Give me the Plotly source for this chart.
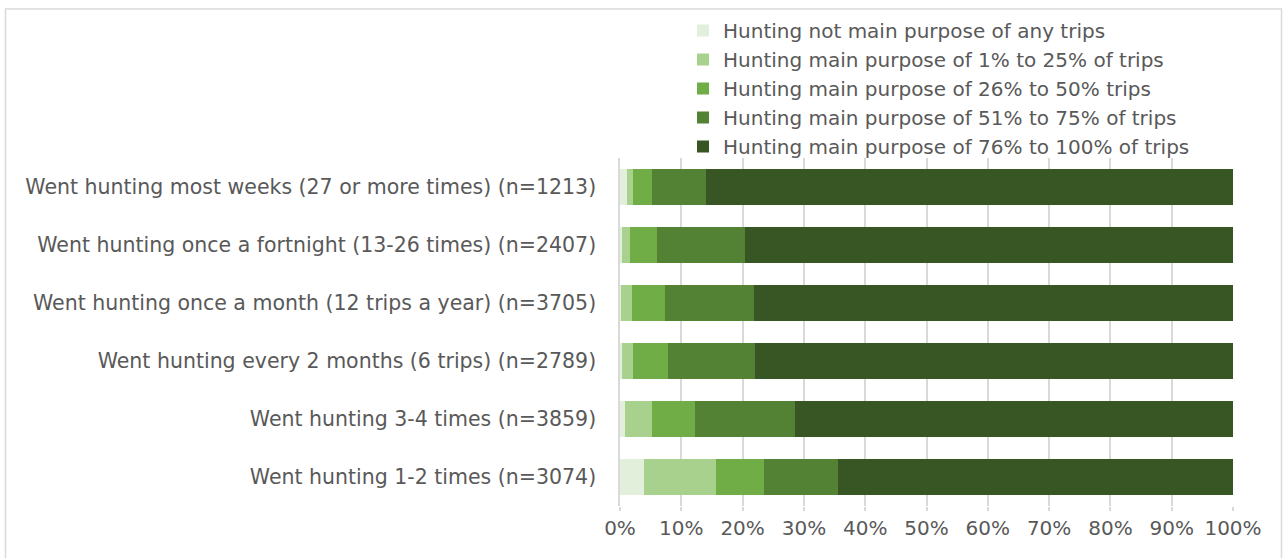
import plotly.graph_objects as go

# Frequency-of-hunting groups (top to bottom as drawn)
categories = [
    "Went hunting most weeks (27 or more times) (n=1213)",
    "Went hunting once a fortnight (13-26 times) (n=2407)",
    "Went hunting once a month (12 trips a year) (n=3705)",
    "Went hunting every 2 months (6 trips) (n=2789)",
    "Went hunting 3-4 times (n=3859)",
    "Went hunting 1-2 times (n=3074)",
]

series_names = [
    "Hunting not main purpose of any trips",
    "Hunting main purpose of 1% to 25% of trips",
    "Hunting main purpose of 26% to 50% trips",
    "Hunting main purpose of 51% to 75% of trips",
    "Hunting main purpose of 76% to 100% of trips",
]

# Share of respondents (%) per group, one list per series
not_main = [1.1, 0.3, 0.2, 0.4, 0.8, 3.9]
pct_1_25 = [1.0, 1.3, 1.7, 1.7, 4.5, 11.8]
pct_26_50 = [3.1, 4.5, 5.4, 5.7, 7.0, 7.8]
pct_51_75 = [8.9, 14.3, 14.6, 14.3, 16.3, 12.0]
pct_76_100 = [85.9, 79.6, 78.1, 77.9, 71.4, 64.5]

x_tick_vals = [0, 10, 20, 30, 40, 50, 60, 70, 80, 90, 100]
x_tick_text = ["0%", "10%", "20%", "30%", "40%", "50%", "60%", "70%", "80%", "90%", "100%"]

colors = ["#E2EFDA", "#A9D18E", "#70AD47", "#548235", "#375623"]
values = [not_main, pct_1_25, pct_26_50, pct_51_75, pct_76_100]

FONT = "DejaVu Sans"
FS = 20
TEXT = "#595959"
GRID = "#D9D9D9"

fig = go.Figure()
for i, (name, vals, col) in enumerate(zip(series_names, values, colors)):
    fig.add_trace(go.Bar(
        y=categories, x=vals, name=name, orientation="h",
        marker=dict(color=col, line=dict(width=0)),
        legendgroup=f"g{i}",
        hovertemplate="%{y}<br>%{x:.1f}%<extra>" + name + "</extra>",
    ))

W, H = 1285, 558
ML, MR, MT, MB = 620, 52, 157, 52
pw = W - ML - MR
ph = H - MT - MB

def px_x(p):
    return (p - ML) / pw

def px_y(p):
    return (H - MB - p) / ph

fig.update_layout(
    width=W, height=H,
    margin=dict(l=ML, r=MR, t=MT, b=MB, pad=0),
    barmode="stack", bargap=0.37,
    paper_bgcolor="white", plot_bgcolor="white",
    font=dict(family=FONT, size=FS, color=TEXT),
    legend=dict(
        x=px_x(683), xanchor="left",
        y=px_y(11), yanchor="top",
        traceorder="grouped", tracegroupgap=0,
        font=dict(family=FONT, size=FS, color=TEXT),
        bgcolor="rgba(0,0,0,0)", borderwidth=0,
        itemclick=False,
    ),
    xaxis=dict(
        range=[0, 100], tickvals=x_tick_vals, ticktext=x_tick_text,
        showgrid=True, gridcolor=GRID, gridwidth=1.5,
        ticks="outside", ticklen=4, tickcolor=GRID, tickwidth=1.5,
        zeroline=False, showline=False,
        tickfont=dict(family=FONT, size=FS, color=TEXT),
        fixedrange=True,
    ),
    yaxis=dict(
        autorange="reversed", showgrid=False, zeroline=False,
        showline=True, linecolor=GRID, linewidth=1.5,
        ticks="", ticklabelstandoff=18,
        tickfont=dict(family=FONT, size=20.5, color=TEXT),
        fixedrange=True,
    ),
    shapes=[
        dict(type="rect", xref="paper", yref="paper", layer="below",
             x0=px_x(5.5), x1=px_x(1281.5), y0=px_y(575), y1=px_y(7.5),
             line=dict(color=GRID, width=1.5), fillcolor="rgba(0,0,0,0)"),
    ],
)

fig.write_html("out.html")
